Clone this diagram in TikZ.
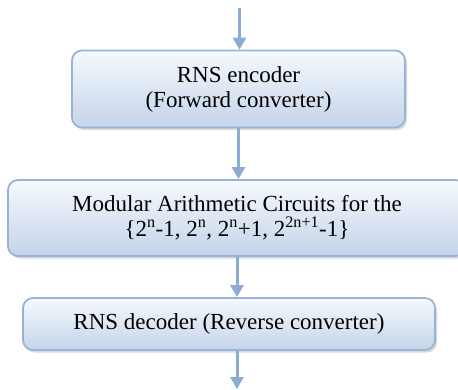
\documentclass[tikz,border=0pt]{standalone}
\usepackage{fontspec}
\setmainfont{Liberation Serif}
\usetikzlibrary{shadows,arrows.meta}
\definecolor{boxline}{RGB}{150,180,215}
\definecolor{boxtop}{RGB}{246,249,253}
\definecolor{boxbot}{RGB}{196,212,234}
\definecolor{flow}{RGB}{142,172,210}

\begin{document}
\begin{tikzpicture}[x=1pt,y=-1pt,
	stage/.style={draw=boxline,line width=1.8pt,rounded corners=10pt,
		top color=boxtop,bottom color=boxbot,align=center,
		font=\rmfamily\fontsize{23}{25}\selectfont,inner sep=0pt,
		drop shadow={shadow xshift=2pt,shadow yshift=-2.5pt,fill=black!30}},
	flowarrow/.style={draw=flow,line width=3pt,-{Triangle[length=12pt,width=13pt]}}]
		\useasboundingbox (0,0) rectangle (458,389);
		\coordinate (in) at (239.5,8);
		\coordinate (out) at (237,389);
		\node[stage,minimum width=333pt,minimum height=77pt] (enc) at (238.5,89)
			{RNS encoder\\(Forward converter)};
		\node[stage,minimum width=458pt,minimum height=76pt] (mod) at (237,218)
			{Modular Arithmetic Circuits for the\\
			\{2\textsuperscript{n}-1, 2\textsuperscript{n}, 2\textsuperscript{n}+1, 2\textsuperscript{2n+1}-1\}};
		\node[stage,minimum width=412pt,minimum height=52pt] (dec) at (229,324)
			{RNS decoder (Reverse converter)};
		\draw[flowarrow] (in) -- (enc.north -| in);
		\draw[flowarrow] (enc.south) -- (enc.south |- mod.north);
		\draw[flowarrow] (mod.south) -- (mod.south |- dec.north);
		\draw[flowarrow] (dec.south -| out) -- (out);
	\end{tikzpicture}
\end{document}
